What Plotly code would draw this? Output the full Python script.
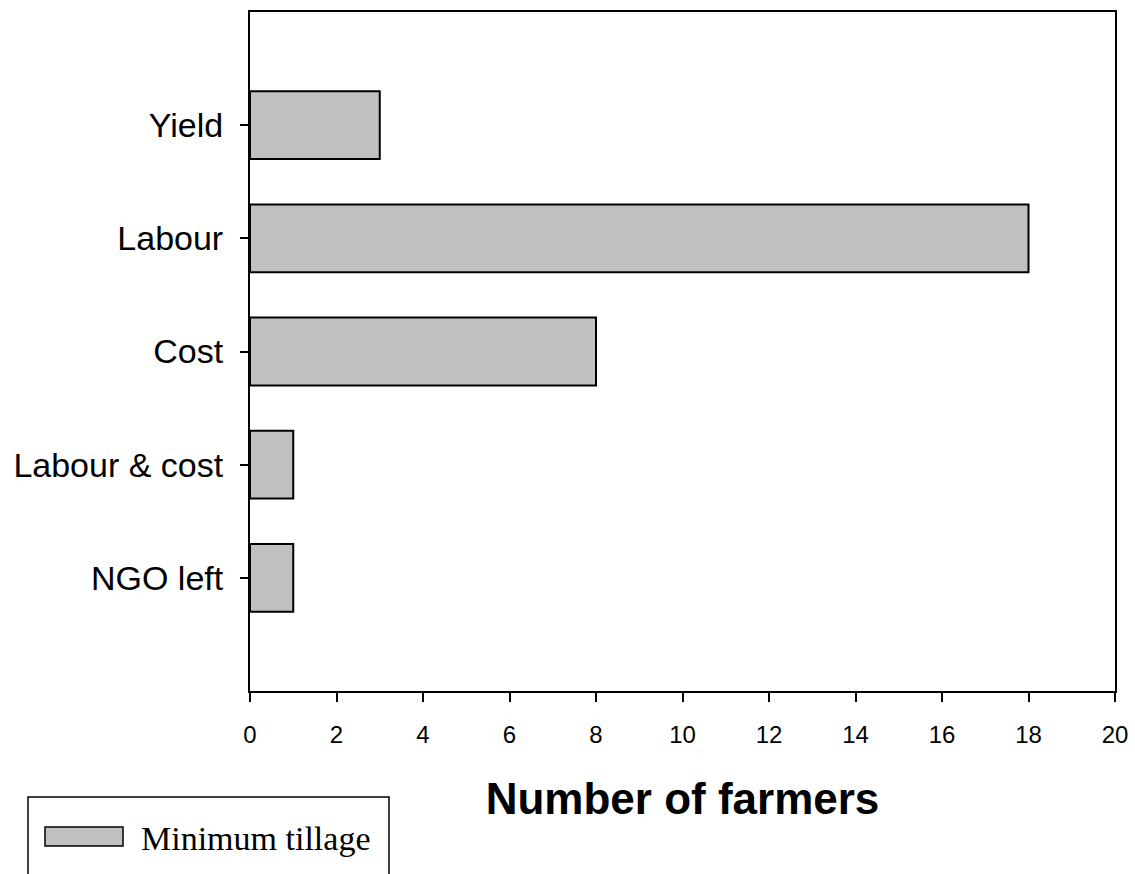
import plotly.graph_objects as go

# Data (bottom to top)
categories = ["NGO left", "Labour & cost", "Cost", "Labour", "Yield"]
farmers = [1, 1, 8, 18, 3]
x_ticks = [0, 2, 4, 6, 8, 10, 12, 14, 16, 18, 20]
series_name = "Minimum tillage"

W, H = 1135, 874
L, T = 250, 12
R = W - 1115
B = H - 691
pw, ph = W - L - R, H - T - B

def px_x(p):
    return (p - L) / pw

def px_y(p):
    return (H - B - p) / ph

fig = go.Figure()
fig.add_trace(go.Bar(
    x=farmers, y=categories, orientation="h", width=0.6,
    marker=dict(color="#c0c0c0", line=dict(color="black", width=2)),
    name=series_name, showlegend=False,
))

axis_common = dict(
    showline=True, linecolor="black", linewidth=2, mirror=True,
    ticks="outside", tickcolor="black", tickwidth=1.5,
    showgrid=False, zeroline=False, automargin=False,
)

fig.update_xaxes(
    range=[0, 20], tickvals=x_ticks, ticklen=9, ticklabelstandoff=12,
    tickfont=dict(family="Liberation Sans, Arial", size=24, color="black"),
    title=dict(text="<b>Number of farmers</b>", standoff=36,
               font=dict(family="Liberation Sans, Arial", size=44, color="black")),
    **axis_common,
)
fig.update_yaxes(
    type="category", categoryorder="array", categoryarray=categories,
    range=[-1, len(categories)], ticklen=8, ticklabelstandoff=10,
    tickfont=dict(family="Liberation Sans, Arial", size=34, color="black"),
    **axis_common,
)

# Legend drawn as a framed box with a wide swatch
fig.add_shape(type="rect", xref="paper", yref="paper",
              x0=px_x(28), x1=px_x(389), y0=px_y(797), y1=px_y(885),
              line=dict(color="black", width=1.5), fillcolor="white")
fig.add_shape(type="rect", xref="paper", yref="paper",
              x0=px_x(45), x1=px_x(123), y0=px_y(827), y1=px_y(846),
              line=dict(color="black", width=1.5), fillcolor="#c0c0c0")
fig.add_annotation(xref="paper", yref="paper", x=px_x(139), y=px_y(838),
                   xanchor="left", yanchor="middle", showarrow=False,
                   text=series_name,
                   font=dict(family="Liberation Serif, Times New Roman", size=34, color="black"))

fig.update_layout(
    width=W, height=H, margin=dict(l=L, r=R, t=T, b=B, autoexpand=False),
    paper_bgcolor="white", plot_bgcolor="white", bargap=0.4,
)

fig.write_html(
    "out.html",
    config={"displayModeBar": False},
    post_script="document.body.style.margin='0';document.body.style.overflow='hidden';",
)
